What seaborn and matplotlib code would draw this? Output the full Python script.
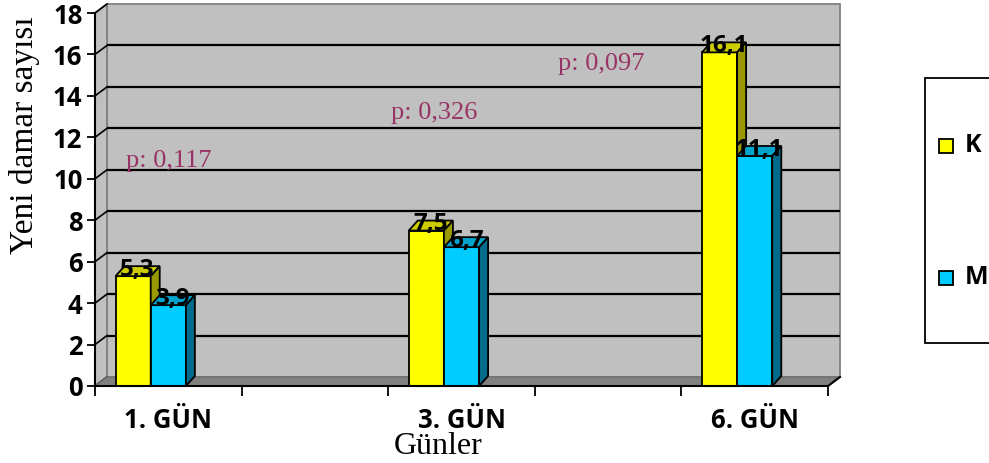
import matplotlib
matplotlib.use("Agg")
import matplotlib.pyplot as plt
from matplotlib.patches import Polygon, Rectangle
import seaborn as sns
import pandas as pd

# ---- data ----
days = ["1. GÜN", "3. GÜN", "6. GÜN"]
k_values = [5.3, 7.5, 16.1]
m_values = [3.9, 6.7, 11.1]
k_labels = ["5,3", "7,5", "16,1"]
m_labels = ["3,9", "6,7", "11,1"]
p_texts = ["p: 0,117", "p: 0,326", "p: 0,097"]
p_pos = [(-0.29, 10.55), (1.52, 12.9), (2.66, 15.25)]
axis_order = ["1. GÜN", "_gap1", "3. GÜN", "_gap2", "6. GÜN"]
tick_labels = ["1. GÜN", "", "3. GÜN", "", "6. GÜN"]
y_ticks = list(range(0, 19, 2))

df = pd.DataFrame({
    "gun": days * 2,
    "sayi": k_values + m_values,
    "grup": ["K"] * 3 + ["M"] * 3,
    "etiket": k_labels + m_labels,
})

SANS = ["Open Sans", "DejaVu Sans"]
SERIF = ["Liberation Serif", "DejaVu Serif"]

W, H = 989, 463
fig = plt.figure(figsize=(W / 100, H / 100), dpi=100)
fig.patch.set_facecolor("white")
x0, x1, y0, y1 = 95, 828, 386, 13
ax = fig.add_axes([x0 / W, (H - y0) / H, (x1 - x0) / W, (y0 - y1) / H])
ax.set_facecolor("none")

face = {"K": "#FFFF00", "M": "#00CCFF"}
top_c = {"K": "#CCCC00", "M": "#00A3CC"}
side_c = {"K": "#999900", "M": "#006B8A"}

sns.barplot(data=df, x="gun", y="sayi", hue="grup", order=axis_order,
            hue_order=["K", "M"], palette=face, saturation=1, width=0.48, gap=0,
            edgecolor="black", linewidth=1.3, legend=False, ax=ax)

ax.set_xlim(-0.5, 4.5)
ax.set_ylim(0, 18)

sx = 5.0 / (x1 - x0)
sy = 18.0 / (y0 - y1)
WX, WY = 12 * sx, 9 * sy    # wall depth
BX, BY = 9 * sx, 10 * sy    # bar depth

bars = [p for p in ax.patches if p.get_height() > 0]
for p in bars:
    p.set_x(p.get_x() - 0.12)

# background 3D box
ax.add_patch(Rectangle((-0.5 + WX, WY), 5.0, 18.0, facecolor="#C0C0C0",
                       edgecolor="#808080", linewidth=1.3, zorder=0.5, clip_on=False))
ax.add_patch(Polygon([(-0.5, 0), (-0.5, 18), (-0.5 + WX, 18 + WY), (-0.5 + WX, WY)],
                     closed=True, facecolor="#C0C0C0", edgecolor="#808080",
                     linewidth=1.3, zorder=0.6, clip_on=False))
for v in y_ticks[1:-1]:
    ax.plot([-0.5 + WX, 4.5 + WX], [v + WY, v + WY], color="black", lw=1.6,
            zorder=0.7, clip_on=False, solid_capstyle="butt")
for v in y_ticks:
    ax.plot([-0.5, -0.5 + WX], [v, v + WY], color="black", lw=1.2,
            zorder=0.8, clip_on=False)
ax.add_patch(Polygon([(-0.5, 0), (4.5, 0), (4.5 + WX, WY), (-0.5 + WX, WY)],
                     closed=True, facecolor="#808080", edgecolor="#707070",
                     linewidth=1.0, zorder=0.9, clip_on=False))
ax.plot([4.5, 4.5 + WX], [0, WY], color="black", lw=1.5, zorder=1, clip_on=False)

# 3D faces of bars
for p in bars:
    x, w, h = p.get_x(), p.get_width(), p.get_height()
    fc = p.get_facecolor()
    g = "K" if abs(fc[2]) < 0.5 else "M"
    z = 3 if g == "K" else 4
    p.set_zorder(z)
    ax.add_patch(Polygon([(x, h), (x + w, h), (x + w + BX, h + BY), (x + BX, h + BY)],
                         closed=True, facecolor=top_c[g], edgecolor="black",
                         linewidth=1.3, zorder=z, clip_on=False))
    ax.add_patch(Polygon([(x + w, 0), (x + w, h), (x + w + BX, h + BY), (x + w + BX, BY)],
                         closed=True, facecolor=side_c[g], edgecolor="black",
                         linewidth=1.3, zorder=z, clip_on=False))

# data labels
for p in bars:
    x, w, h = p.get_x(), p.get_width(), p.get_height()
    row = df[(df["sayi"] == h)]
    lab = row["etiket"].iloc[0] if len(row) else f"{h}"
    ax.text(x + w / 2 + BX / 2, h + 0.02, lab, ha="center", va="baseline",
            fontsize=17.5, fontweight="bold", family=SANS, color="black", zorder=6)

# p-values
for (px, py), t in zip(p_pos, p_texts):
    ax.text(px, py, t, ha="left", va="baseline", fontsize=19,
            family=SERIF, color="#993366", zorder=2)

# axes styling
for s in ["top", "right"]:
    ax.spines[s].set_visible(False)
for s in ["left", "bottom"]:
    ax.spines[s].set_color("black")
    ax.spines[s].set_linewidth(1.5)
    ax.spines[s].set_zorder(5)
ax.grid(False)
ax.set_yticks(y_ticks)
ax.set_yticklabels([str(v) for v in y_ticks], fontsize=18.5, fontweight="bold",
                   family=SANS)
ax.tick_params(axis="y", direction="out", length=6, width=1.3, pad=3, color="black")
ax.set_xticks(range(5))
ax.set_xticklabels(tick_labels, fontsize=18.5, fontweight="bold", family=SANS)
ax.set_xticks([-0.5 + i for i in range(6)], minor=True)
ax.tick_params(axis="x", which="major", length=0, pad=15)
ax.tick_params(axis="x", which="minor", direction="out", length=7, width=1.3,
               color="black")

ax.set_xlabel("Günler", fontsize=23, family=SERIF)
ax.xaxis.label.set_va("baseline")
ax.xaxis.set_label_coords((438 - x0) / (x1 - x0), -(454 - y0) / (y0 - y1))
ax.set_ylabel("Yeni damar sayısı", fontsize=24, family=SERIF)
ax.yaxis.label.set_va("center")
ax.yaxis.set_label_coords((24 - x0) / (x1 - x0), (y0 - 135) / (y0 - y1))

# legend (cropped on the right like the reference)
fig.add_artist(Rectangle((925 / W, (H - 343) / H), 120 / W, 265 / H,
                         transform=fig.transFigure, facecolor="white",
                         edgecolor="black", linewidth=1.3))
for (g, cy) in [("K", 146), ("M", 278)]:
    fig.add_artist(Rectangle((939 / W, (H - cy - 7) / H), 14 / W, 14 / H,
                             transform=fig.transFigure, facecolor=face[g],
                             edgecolor="black", linewidth=1.3))
    fig.text(965 / W, (H - cy) / H, g, ha="left", va="center", fontsize=18,
             fontweight="bold", family=SANS)

fig.savefig("out.png", dpi=100)
